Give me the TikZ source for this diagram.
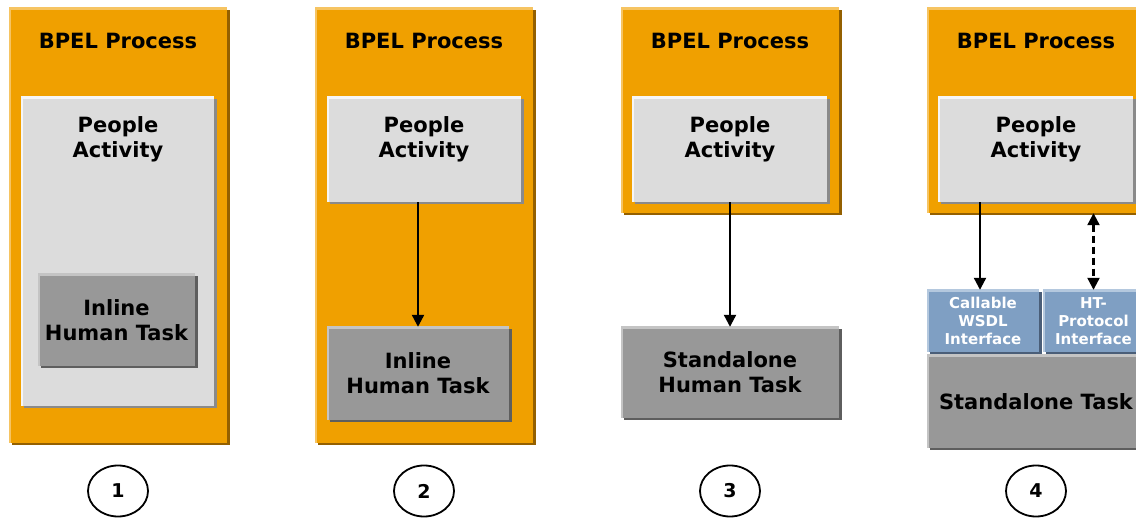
\documentclass[tikz,border=0pt]{standalone}
\usepackage{fontspec}
\setmainfont{DejaVu Sans}
\usetikzlibrary{shadows,shapes.geometric,arrows.meta}
\definecolor{orangeF}{HTML}{F0A000}
\definecolor{orangeL}{HTML}{F6C462}
\definecolor{orangeD}{HTML}{946000}
\definecolor{lgrayF}{HTML}{DCDCDC}
\definecolor{lgrayL}{HTML}{F6F6F6}
\definecolor{lgrayD}{HTML}{8A8A8A}
\definecolor{dgrayF}{HTML}{989898}
\definecolor{dgrayL}{HTML}{C4C4C4}
\definecolor{dgrayD}{HTML}{5E5E5E}
\definecolor{blueF}{HTML}{7F9FC3}
\definecolor{blueL}{HTML}{B4C8DE}
\definecolor{blueD}{HTML}{4A5E78}
\tikzset{
  basebox/.style n args={3}{draw=none, fill=#1, inner sep=0pt,
    drop shadow={shadow xshift=2.5pt, shadow yshift=-2.5pt, fill=#3, opacity=1},
    path picture={\draw[#2, line width=3.4pt]
      (path picture bounding box.south west) -- (path picture bounding box.north west)
      -- (path picture bounding box.north east);}},
  orangebox/.style={basebox={orangeF}{orangeL}{orangeD}},
  lightbox/.style={basebox={lgrayF}{lgrayL}{lgrayD}},
  darkbox/.style={basebox={dgrayF}{dgrayL}{dgrayD}, align=center,
    font=\fontsize{21}{25}\selectfont\bfseries},
  bluebox/.style={basebox={blueF}{blueL}{blueD}, align=center, text=white,
    font=\fontsize{15}{18}\selectfont\bfseries},
  txt/.style={align=center, inner sep=0pt, font=\fontsize{21}{25}\selectfont\bfseries},
  num/.style={draw, line width=1.8pt, ellipse, minimum width=60pt, minimum height=51pt,
    inner sep=0pt, font=\fontsize{19}{22}\selectfont\bfseries},
  arr/.style={line width=2.2pt, -{Triangle[length=12pt,width=12pt]}},
  darr/.style={line width=2.2pt, dash pattern=on 7pt off 4pt,
    {Triangle[length=12pt,width=12pt]}-{Triangle[length=12pt,width=12pt]}}
}
\begin{document}
\begin{tikzpicture}[x=1pt,y=1pt]
\useasboundingbox (0,0) rectangle (1136,-518);
\clip (0,0) rectangle (1136,-518);
% Panel 1
\node[orangebox, minimum width=218pt, minimum height=435pt] (o1) at (118,-225.5) {};
\node[txt] (t1) at (118,-40.5) {BPEL Process};
\node[lightbox, minimum width=193pt, minimum height=309pt] (pa1) at (117.5,-251.5) {};
\node[txt] (pt1) at (118,-139) {People\\Activity};
\node[darkbox, minimum width=157pt, minimum height=92pt] (h1) at (116.5,-320) {Inline\\Human Task};
% Panel 2
\node[orangebox, minimum width=218pt, minimum height=435pt] (o2) at (424,-225.5) {};
\node[txt] (t2) at (424,-40.5) {BPEL Process};
\node[lightbox, minimum width=194pt, minimum height=105pt] (pa2) at (424,-149.5) {};
\node[txt] (pt2) at (424,-139) {People\\Activity};
\node[darkbox, minimum width=182pt, minimum height=93pt] (h2) at (418,-373.5) {Inline\\Human Task};
\draw[arr] (h2.north |- pa2.south) -- (h2.north);
% Panel 3
\node[orangebox, minimum width=218pt, minimum height=205pt] (o3) at (730,-110.5) {};
\node[txt] (t3) at (730,-40.5) {BPEL Process};
\node[lightbox, minimum width=195pt, minimum height=105pt] (pa3) at (729.5,-149.5) {};
\node[txt] (pt3) at (730,-139) {People\\Activity};
\node[darkbox, minimum width=218pt, minimum height=91pt] (h3) at (730,-372.5) {Standalone\\Human Task};
\draw[arr] (h3.north |- pa3.south) -- (h3.north);
% Panel 4
\node[orangebox, minimum width=218pt, minimum height=205pt] (o4) at (1036,-110.5) {};
\node[txt] (t4) at (1036,-40.5) {BPEL Process};
\node[lightbox, minimum width=195pt, minimum height=105pt] (pa4) at (1035.5,-149.5) {};
\node[txt] (pt4) at (1036,-139) {People\\Activity};
\node[bluebox, minimum width=112pt, minimum height=62pt] (cw) at (983,-321) {Callable\\WSDL\\Interface};
\node[bluebox, minimum width=101pt, minimum height=62pt] (hp) at (1093.5,-321) {HT-\\Protocol\\Interface};
\node[darkbox, minimum width=218pt, minimum height=93pt] (st) at (1036,-401.5) {Standalone Task};
\draw[arr] ([xshift=-3pt]cw.north |- pa4.south) -- ([xshift=-3pt]cw.north);
\draw[darr] (hp.north |- o4.south) -- (hp.north);
% Numbers
\node[num] (n1) at (118,-491) {1};
\node[num] (n2) at (424,-491) {2};
\node[num] (n3) at (730,-491) {3};
\node[num] (n4) at (1036,-491) {4};
\end{tikzpicture}
\end{document}
